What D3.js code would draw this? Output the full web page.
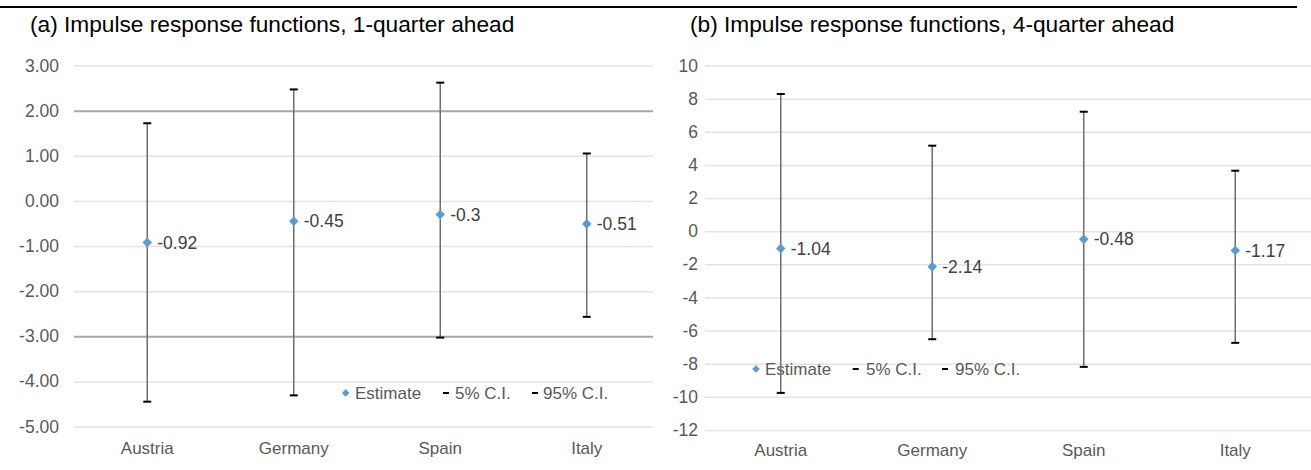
<!DOCTYPE html>
<html>
<head>
<meta charset="utf-8">
<script src="https://cdn.jsdelivr.net/npm/d3@7/dist/d3.min.js"></script>
<style>
  html, body { margin: 0; padding: 0; background: #fff; }
  svg { display: block; }
  text { font-family: "Liberation Sans", Arial, sans-serif; }
</style>
</head>
<body>
<svg id="chart" width="1311" height="470"></svg>
<script>
// ---- data ----
const categories = ["Austria", "Germany", "Spain", "Italy"];

const titleA = "(a) Impulse response functions, 1-quarter ahead";
const estimateA = [-0.92, -0.45, -0.3, -0.51];
const lowA = [-4.45, -4.31, -3.03, -2.57];
const highA = [1.72, 2.47, 2.62, 1.05];
const ticksA = [3, 2, 1, 0, -1, -2, -3, -4, -5];
const darkGridA = [2, -3];

const titleB = "(b) Impulse response functions, 4-quarter ahead";
const estimateB = [-1.04, -2.14, -0.48, -1.17];
const lowB = [-9.76, -6.52, -8.19, -6.74];
const highB = [8.28, 5.16, 7.21, 3.65];
const ticksB = [10, 8, 6, 4, 2, 0, -2, -4, -6, -8, -10, -12];
const darkGridB = [];

const legendLabels = ["Estimate", "5% C.I.", "95% C.I."];

// ---- drawing ----
const svg = d3.select("#chart");
const FONT = 17;
const hyphenMinus = f => d => f(d).replace("\u2212", "-");

svg.append("line")
  .attr("x1", 0).attr("x2", 1297).attr("y1", 7).attr("y2", 7)
  .attr("stroke", "#000").attr("stroke-width", 2);

function panel(cfg) {
  const g = svg.append("g");
  const y = d3.scaleLinear().domain([cfg.ticks[cfg.ticks.length - 1], cfg.ticks[0]])
    .range([cfg.bottom, cfg.top]);
  const x = d3.scaleBand().domain(categories).range([cfg.left, cfg.right]);

  // title
  g.append("text").attr("x", cfg.titleX).attr("y", 32)
    .attr("font-size", 22.7).attr("fill", "#000").text(cfg.title);

  // gridlines
  const yAxis = d3.axisLeft(y).tickValues(cfg.ticks)
    .tickSize(-(cfg.gridRight - cfg.left)).tickPadding(cfg.labelPad)
    .tickFormat(cfg.fmt);
  const ax = g.append("g").attr("transform", `translate(${cfg.left},0)`).call(yAxis);
  ax.select(".domain").remove();
  ax.selectAll(".tick line")
    .attr("stroke", d => cfg.dark.includes(d) ? "#a6a6a6" : "#e3e3e3")
    .attr("stroke-width", d => cfg.dark.includes(d) ? 2 : 1.5);
  ax.selectAll(".tick text")
    .attr("font-size", 17.5).attr("fill", "#595959")
    .attr("font-family", "Liberation Sans, Arial, sans-serif");

  // x axis labels
  const xAxis = d3.axisBottom(x).tickSize(0).tickPadding(0);
  const xa = g.append("g").attr("transform", `translate(0,${cfg.catY})`).call(xAxis);
  xa.select(".domain").remove();
  xa.selectAll(".tick text")
    .attr("font-size", FONT).attr("fill", "#595959").attr("dy", 0)
    .attr("font-family", "Liberation Sans, Arial, sans-serif");

  // legend (drawn under the marks)
  const lg = g.append("g");
  const L = cfg.legend;
  lg.append("path")
    .attr("d", d3.symbol(d3.symbolDiamond2, 38)())
    .attr("transform", `translate(${L.x[0]},${L.y})`)
    .attr("fill", "#5b9bd5");
  [1, 2].forEach(i => {
    lg.append("rect").attr("x", L.x[i] - 3).attr("y", L.y - 1)
      .attr("width", 6).attr("height", 2).attr("fill", "#000");
  });
  legendLabels.forEach((t, i) => {
    lg.append("text").attr("x", L.tx[i]).attr("y", L.y).attr("dy", "0.35em")
      .attr("font-size", FONT).attr("fill", "#595959").text(t);
  });

  const cx = c => x(c) + x.bandwidth() / 2;

  // high-low lines
  g.selectAll(".hl").data(categories).enter().append("line")
    .attr("x1", cx).attr("x2", cx)
    .attr("y1", (c, i) => y(cfg.high[i])).attr("y2", (c, i) => y(cfg.low[i]))
    .attr("stroke", "#6f6f6f").attr("stroke-width", 1.5);

  // 5% / 95% markers (dashes)
  [cfg.low, cfg.high].forEach(arr => {
    g.selectAll(null).data(categories).enter().append("rect")
      .attr("x", c => cx(c) - 4).attr("y", (c, i) => y(arr[i]) - 1)
      .attr("width", 8).attr("height", 2).attr("fill", "#000");
  });

  // estimate markers
  g.selectAll(".est").data(categories).enter().append("path")
    .attr("d", d3.symbol(d3.symbolDiamond2, 58)())
    .attr("transform", (c, i) => `translate(${cx(c)},${y(cfg.est[i])})`)
    .attr("fill", "#5b9bd5");

  // data labels
  g.selectAll(".lbl").data(categories).enter().append("text")
    .attr("x", c => cx(c) + 10).attr("y", (c, i) => y(cfg.est[i]))
    .attr("dy", "0.35em").attr("font-size", 17.5).attr("fill", "#404040")
    .text((c, i) => String(cfg.est[i]));
}

panel({
  title: titleA, titleX: 30,
  est: estimateA, low: lowA, high: highA, ticks: ticksA, dark: darkGridA,
  left: 74, right: 660, gridRight: 653, top: 65.5, bottom: 426.5,
  labelPad: 15, fmt: hyphenMinus(d3.format(".2f")), catY: 454,
  legend: { y: 393, x: [345.7, 446, 535], tx: [355, 455, 543] }
});

panel({
  title: titleB, titleX: 690,
  est: estimateB, low: lowB, high: highB, ticks: ticksB, dark: darkGridB,
  left: 705, right: 1311, gridRight: 1311, top: 65.5, bottom: 430,
  labelPad: 7, fmt: hyphenMinus(d3.format("d")), catY: 456,
  legend: { y: 369, x: [756, 855.7, 945], tx: [765, 866, 955] }
});
</script>
</body>
</html>
